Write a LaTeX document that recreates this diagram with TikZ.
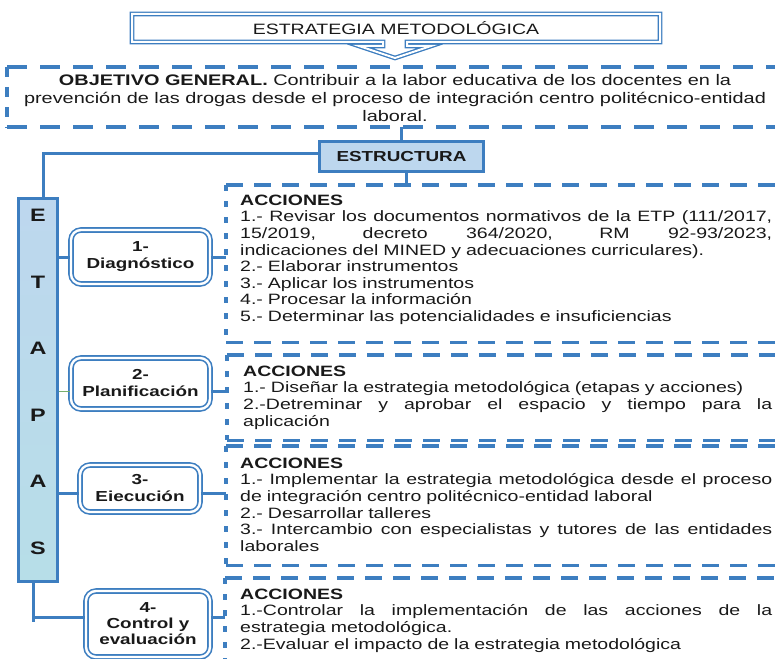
\documentclass[tikz,border=0pt]{standalone}
\usepackage{fontspec}
\setmainfont[FakeStretch=1.3]{Liberation Sans}
\definecolor{lb}{RGB}{61,126,192}
\definecolor{fillb}{RGB}{189,215,238}
\definecolor{fillb2}{RGB}{183,222,232}
\definecolor{txt}{RGB}{25,25,25}
\definecolor{thin}{RGB}{120,175,110}
\newcommand\jl[2][532pt]{\leavevmode\hbox to #1{\spaceskip=\fontdimen2\font plus 1fil\relax #2}}
\begin{document}
\begin{tikzpicture}[x=1pt,y=-1pt,
  conn/.style={draw=lb,line width=3pt},
  hdash/.style={draw=lb,line width=3.2pt,dash pattern=on 17pt off 11pt},
  vdash/.style={draw=lb,line width=3.2pt,dash pattern=on 6pt off 10pt},
  stage/.style={draw=lb,double=white,double distance=2.4pt,line width=1.6pt,rounded corners=10pt,align=center,font=\bfseries\fontsize{14.5}{17}\selectfont,text=txt,inner sep=0pt},
  acc/.style={anchor=north west,inner sep=0pt,text width=532pt,align=left,font=\fontsize{15}{16.6}\selectfont,text=txt},
  box/.style={draw=none,inner sep=0pt,anchor=north west}
]
\clip (0,0) rectangle (775,658);
% title callout
\draw[draw=lb,double=white,double distance=2pt,line width=1.3pt,line join=miter]
 (132,14) -- (660,14) -- (660,42) -- (407,42) -- (407,46) -- (431,46) -- (395,58) -- (359,46) -- (383,46) -- (383,42) -- (132,42) -- cycle;
\node[font=\fontsize{15}{18}\selectfont,text=txt] (title) at (396,28) {ESTRATEGIA METODOLÓGICA};
% objective
\node[box,minimum width=800pt,minimum height=60pt] (obj) at (7,67) {};
\draw[draw=lb,line width=4pt,dash pattern=on 20pt off 13pt] (obj.north west) -- (obj.north east);
\draw[draw=lb,line width=4pt,dash pattern=on 20pt off 13pt] (obj.south west) -- (obj.south east);
\draw[draw=lb,line width=4pt,dash pattern=on 10pt off 10pt] (obj.north west) -- (obj.south west);
\node[align=center,font=\fontsize{15.3}{18}\selectfont,text=txt,inner sep=0pt] (objt) at (395,98.5) {\textbf{OBJETIVO GENERAL.} Contribuir a la labor educativa de los docentes en la\\ prevención de las drogas desde el proceso de integración centro politécnico-entidad\\ laboral.};
% estructura
\node[draw=lb,line width=3pt,fill=fillb,minimum width=164pt,minimum height=30pt,inner sep=0pt,font=\bfseries\fontsize{14.5}{17}\selectfont,text=txt] (est) at (401.5,156.5) {ESTRUCTURA};
% etapas
\node[draw=lb,line width=3pt,top color=fillb,bottom color=fillb2,minimum width=39pt,minimum height=383pt,inner sep=0pt] (etapas) at (38,390) {};
\node[align=center,font=\bfseries\fontsize{18}{66.5}\selectfont,text=txt,inner sep=0pt] (etapasT) at (38,382) {E\\T\\A\\P\\A\\S};
% stages
\node[stage,minimum width=139pt,minimum height=54pt] (n1) at (140.5,257) {1-\\Diagnóstico};
\node[stage,minimum width=139pt,minimum height=51pt] (n2) at (140.5,383.5) {2-\\Planificación};
\node[stage,minimum width=120pt,minimum height=47pt] (n3) at (140,488.5) {3-\\Eiecución};
\node[stage,minimum width=124pt,minimum height=66pt,font=\bfseries\fontsize{14.5}{16}\selectfont] (n4) at (148,624) {4-\\Control y\\evaluación};
% action boxes
\node[box,minimum width=600pt,minimum height=157pt] (b1) at (226,185) {};
\node[box,minimum width=600pt,minimum height=85pt] (b2) at (227,355) {};
\node[box,minimum width=600pt,minimum height=119pt] (b3) at (226,446) {};
\node[box,minimum width=600pt,minimum height=110pt] (b4) at (225,578) {};
\foreach \b in {b1,b2,b3,b4}{
  \draw[hdash] (\b.north west) -- (\b.north east);
  \draw[hdash] (\b.south west) -- (\b.south east);
  \draw[vdash] (\b.north west) -- (\b.south west);
}
% connectors
\draw[conn] (est.north) -- (est.north |- obj.south);
\draw[conn] ([xshift=5pt]est.south) -- ([xshift=5pt]est.south |- b1.north);
\draw[conn] ([yshift=3pt]est.west) -| ([xshift=5pt]etapas.north);
\draw[conn] (etapas.east |- n1.west) -- (n1.west);
\draw[conn] (n1.east) -- (n1.east -| b1.west);
\draw[draw=thin,line width=1.2pt] ([yshift=-8pt]n2.west -| etapas.east) -- ([yshift=-8pt]n2.west);
\draw[conn,line width=2.5pt] ([yshift=-8pt]n2.east) -- ([yshift=-8pt]n2.east -| b2.west);
\draw[conn] ([yshift=-4.5pt]n3.west -| etapas.east) -- ([yshift=-4.5pt]n3.west);
\draw[conn] ([yshift=-4.5pt]n3.east) -- ([yshift=-4.5pt]n3.east -| b3.west);
\coordinate (k4) at (33,622);
\draw[conn] (k4 |- etapas.south) -- (k4);
\draw[conn] ([yshift=7pt]n4.west -| k4) -- ([yshift=7pt]n4.west);
\draw[conn] ([yshift=7pt]n4.east) -- ([yshift=7pt]n4.east -| b4.west);
% texts
\node[acc] (t1) at (240,194.6) {\textbf{ACCIONES}\\
\jl{1.- Revisar los documentos normativos de la ETP (111/2017,}\\
\jl{15/2019, decreto 364/2020, RM 92-93/2023,}\\
indicaciones del MINED y adecuaciones curriculares).\\
2.- Elaborar instrumentos\\
3.- Aplicar los instrumentos\\
4.- Procesar la información\\
5.- Determinar las potencialidades e insuficiencias};
\node[acc,text width=529pt] (t2) at (243,365.6) {\textbf{ACCIONES}\\
1.- Diseñar la estrategia metodológica (etapas y acciones)\\
\jl[529pt]{2.-Detreminar y aprobar el espacio y tiempo para la}\\
aplicación};
\node[acc] (t3) at (240,457.6) {\textbf{ACCIONES}\\
\jl{1.- Implementar la estrategia metodológica desde el proceso}\\
de integración centro politécnico-entidad laboral\\
2.- Desarrollar talleres\\
\jl{3.- Intercambio con especialistas y tutores de las entidades}\\
laborales};
\node[acc] (t4) at (240,588.6) {\textbf{ACCIONES}\\
\jl{1.-Controlar la implementación de las acciones de la}\\
estrategia metodológica.\\
2.-Evaluar el impacto de la estrategia metodológica};
\end{tikzpicture}
\end{document}
